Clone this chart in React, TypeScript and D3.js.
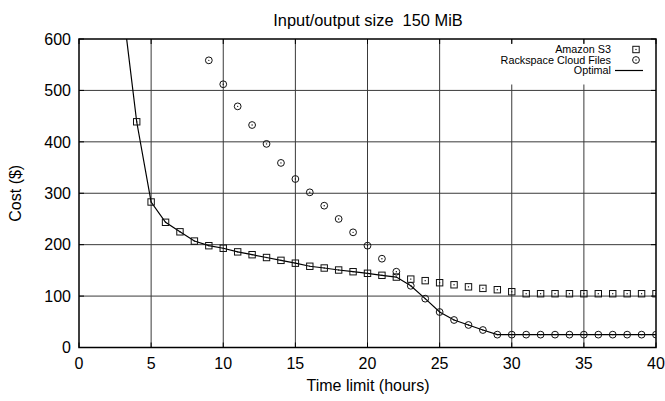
import React from "react";
import * as d3 from "d3";

const hours: number[] = [
  3, 4, 5, 6, 7, 8, 9, 10, 11, 12, 13, 14, 15, 16, 17, 18, 19, 20, 21, 22, 23, 24, 25, 26, 27, 28, 29, 30, 31, 32, 33, 34, 35, 36, 37, 38, 39, 40,
];
const s3Hours: number[] = hours.slice(1);
const s3Cost: number[] = [
  439, 283, 243.5, 225, 207, 198, 193, 186, 180.5, 175, 169.5, 164, 158, 154.6, 150.7, 147.4, 144.3, 140.4, 137, 133, 130, 126, 122, 118, 115, 112.4, 108.5, 104.6, 104.6, 104.6, 104.6, 104.6, 104.6, 104.6, 104.6, 104.6, 104.6,
];
const rackHours: number[] = hours.slice(6);
const rackCost: number[] = [
  558.5, 512, 469, 432.7, 396, 359, 327.7, 301.8, 275.8, 250, 224, 198, 172.7, 147.4, 120, 95, 69, 53.5, 43.8, 34, 25, 25, 25, 25, 25, 25, 25, 25, 25, 25, 25, 25,
];
const optimalCost: number[] = [
  670, 439, 283, 243.5, 225, 207, 198, 193, 186, 180.5, 175, 169.5, 164, 158, 154.6, 150.7, 147.4, 144.3, 140.4, 137, 120, 95, 69, 53.5, 43.8, 34, 25, 25, 25, 25, 25, 25, 25, 25, 25, 25, 25, 25,
];
const xTicks: number[] = [0, 5, 10, 15, 20, 25, 30, 35, 40];
const yTicks: number[] = [0, 100, 200, 300, 400, 500, 600];
const legendLabels: string[] = ["Amazon S3", "Rackspace Cloud Files", "Optimal"];
const title = "Input/output size  150 MiB";
const xLabel = "Time limit (hours)";
const yLabel = "Cost ($)";

const W = 665;
const H = 401;
const L = 79;
const R = 656;
const T = 39;
const B = 347.5;
const FONT = "'Liberation Sans', Arial, Helvetica, sans-serif";

export default function App() {
  const x = d3.scaleLinear().domain([0, 40]).range([L, R]);
  const y = d3.scaleLinear().domain([0, 600]).range([B, T]);
  const line = d3
    .line<[number, number]>()
    .x((d) => x(d[0]))
    .y((d) => y(d[1]));
  const optPts: [number, number][] = hours.map((h, i) => [h, optimalCost[i]]);
  const s3Pts = s3Hours.map((h, i) => [h, s3Cost[i]] as [number, number]);
  const rackPts = rackHours.map((h, i) => [h, rackCost[i]] as [number, number]);
  const tickLen = 5;
  const gridColor = "#3a3a3a";
  const legY = [49.5, 60, 70.5];
  const legTextX = 611;
  const legSymX = 636;

  const square = (cx: number, cy: number, key: string) => (
    <g key={key}>
      <rect x={cx - 3.2} y={cy - 3.2} width={6.4} height={6.4} fill="none" stroke="#111" strokeWidth={1} />
      <rect x={cx - 0.6} y={cy - 0.6} width={1.2} height={1.2} fill="#111" />
    </g>
  );
  const circle = (cx: number, cy: number, key: string) => (
    <g key={key}>
      <circle cx={cx} cy={cy} r={3.4} fill="none" stroke="#111" strokeWidth={1} />
      <circle cx={cx} cy={cy} r={0.7} fill="#111" />
    </g>
  );

  return (
    <svg
      width={W}
      height={H}
      style={{ position: "absolute", left: 0, top: 0, background: "#fff" }}
      fontFamily={FONT}
    >
      <defs>
        <clipPath id="plotclip">
          <rect x={L} y={T} width={R - L} height={B - T} />
        </clipPath>
      </defs>
      <rect x={0} y={0} width={W} height={H} fill="#fff" />
      {/* grid */}
      {xTicks.slice(1, -1).map((t) => (
        <line key={"gx" + t} x1={x(t)} x2={x(t)} y1={T} y2={B} stroke={gridColor} strokeWidth={1} />
      ))}
      {yTicks.slice(1, -1).map((t) => (
        <line key={"gy" + t} x1={L} x2={R} y1={y(t)} y2={y(t)} stroke={gridColor} strokeWidth={1} />
      ))}
      {/* legend background */}
      <rect x={490} y={43.5} width={R - 490 - 0.8} height={41} fill="#fff" />
      {/* ticks */}
      {xTicks.map((t) => (
        <g key={"tx" + t}>
          <line x1={x(t)} x2={x(t)} y1={B} y2={B - tickLen} stroke="#000" strokeWidth={1} />
          <line x1={x(t)} x2={x(t)} y1={T} y2={T + tickLen} stroke="#000" strokeWidth={1} />
        </g>
      ))}
      {yTicks.map((t) => (
        <g key={"ty" + t}>
          <line x1={L} x2={L + tickLen} y1={y(t)} y2={y(t)} stroke="#000" strokeWidth={1} />
          <line x1={R} x2={R - tickLen} y1={y(t)} y2={y(t)} stroke="#000" strokeWidth={1} />
        </g>
      ))}
      {/* frame */}
      <rect x={L} y={T} width={R - L} height={B - T} fill="none" stroke="#000" strokeWidth={1.5} />
      {/* data */}
      <g clipPath="url(#plotclip)">
        <path d={line(optPts) || ""} fill="none" stroke="#000" strokeWidth={1.2} />
        {s3Pts.map((p, i) => square(x(p[0]), y(p[1]), "s" + i))}
        {rackPts.map((p, i) => circle(x(p[0]), y(p[1]), "c" + i))}
      </g>
      {/* tick labels */}
      {xTicks.map((t) => (
        <text key={"lx" + t} x={x(t)} y={369} fontSize={16} textAnchor="middle" fill="#000">
          {t}
        </text>
      ))}
      {yTicks.map((t) => (
        <text key={"ly" + t} x={71} y={y(t)} dy="0.36em" fontSize={16} textAnchor="end" fill="#000">
          {t}
        </text>
      ))}
      {/* titles */}
      <text x={368} y={26} fontSize={16.4} textAnchor="middle" xmlSpace="preserve" style={{ whiteSpace: "pre" }}>
        {title}
      </text>
      <text x={368} y={391} fontSize={16} textAnchor="middle">
        {xLabel}
      </text>
      <text transform={`translate(21,${(T + B) / 2}) rotate(-90)`} fontSize={16} textAnchor="middle">
        {yLabel}
      </text>
      {/* legend */}
      {legendLabels.map((lab, i) => (
        <text key={"lg" + i} x={legTextX} y={legY[i]} dy="0.36em" fontSize={10.8} textAnchor="end">
          {lab}
        </text>
      ))}
      {square(legSymX, legY[0], "legs")}
      {circle(legSymX, legY[1], "legc")}
      <line x1={615} x2={643} y1={legY[2]} y2={legY[2]} stroke="#000" strokeWidth={1.2} />
    </svg>
  );
}
